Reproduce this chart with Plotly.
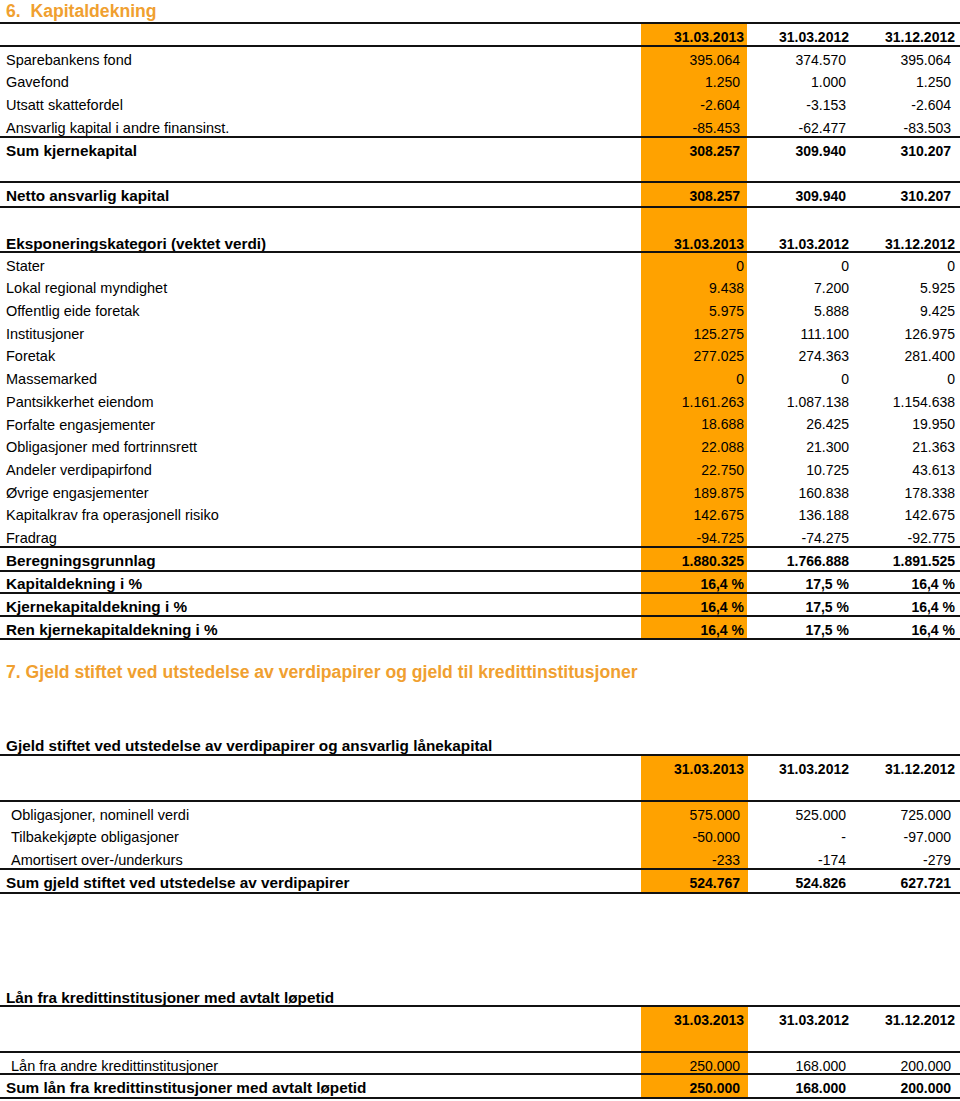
import plotly.graph_objects as go

# ---------------- data ----------------
dates = ["31.03.2013", "31.03.2012", "31.12.2012"]

title6 = "6.  Kapitaldekning"
cap_labels = ["Sparebankens fond", "Gavefond", "Utsatt skattefordel",
              "Ansvarlig kapital i andre finansinst."]
cap_2013 = [395064, 1250, -2604, -85453]
cap_2012q1 = [374570, 1000, -3153, -62477]
cap_2012 = [395064, 1250, -2604, -83503]

core_label = "Sum kjernekapital"
core_vals = [308257, 309940, 310207]
net_label = "Netto ansvarlig kapital"
net_vals = [308257, 309940, 310207]

exp_header = "Eksponeringskategori (vektet verdi)"
exp_labels = ["Stater", "Lokal regional myndighet", "Offentlig eide foretak",
              "Institusjoner", "Foretak", "Massemarked", "Pantsikkerhet eiendom",
              "Forfalte engasjementer", "Obligasjoner med fortrinnsrett",
              "Andeler verdipapirfond", "Øvrige engasjementer",
              "Kapitalkrav fra operasjonell risiko", "Fradrag"]
exp_2013 = [0, 9438, 5975, 125275, 277025, 0, 1161263, 18688, 22088, 22750,
            189875, 142675, -94725]
exp_2012q1 = [0, 7200, 5888, 111100, 274363, 0, 1087138, 26425, 21300, 10725,
              160838, 136188, -74275]
exp_2012 = [0, 5925, 9425, 126975, 281400, 0, 1154638, 19950, 21363, 43613,
            178338, 142675, -92775]

basis_label = "Beregningsgrunnlag"
basis_vals = [1880325, 1766888, 1891525]

ratio_labels = ["Kapitaldekning i %", "Kjernekapitaldekning i %",
                "Ren kjernekapitaldekning i %"]
ratio_2013 = [16.4, 16.4, 16.4]
ratio_2012q1 = [17.5, 17.5, 17.5]
ratio_2012 = [16.4, 16.4, 16.4]

title7 = "7. Gjeld stiftet ved utstedelse av verdipapirer og gjeld til kredittinstitusjoner"
bond_header = "Gjeld stiftet ved utstedelse av verdipapirer og ansvarlig lånekapital"
bond_labels = ["Obligasjoner, nominell verdi", "Tilbakekjøpte obligasjoner",
               "Amortisert over-/underkurs"]
bond_2013 = [575000, -50000, -233]
bond_2012q1 = [525000, None, -174]
bond_2012 = [725000, -97000, -279]
bond_sum_label = "Sum gjeld stiftet ved utstedelse av verdipapirer"
bond_sum = [524767, 524826, 627721]

loan_header = "Lån fra kredittinstitusjoner med avtalt løpetid"
loan_labels = ["Lån fra andre kredittinstitusjoner"]
loan_2013 = [250000]
loan_2012q1 = [168000]
loan_2012 = [200000]
loan_sum_label = "Sum lån fra kredittinstitusjoner med avtalt løpetid"
loan_sum = [250000, 168000, 200000]


# ---------------- helpers ----------------
def nok(v):
    if v is None:
        return "-"
    s = f"{abs(v):,}".replace(",", ".")
    return ("-" if v < 0 else "") + s


def pct(v):
    return f"{v:.1f}".replace(".", ",") + " %"


ORANGE = "#FFA200"
TITLE = "#F0A030"
FONT = "Liberation Sans, Arial, sans-serif"
STEP = 22.7
DY = 2                      # vertical text nudge
EDGE_A = [744, 849, 955]   # header / exposure right edges
EDGE_B = [740, 846, 951]   # capital / debt right edges

plain_x, plain_y, plain_t = [], [], []
boldl_x, boldl_y, boldl_t = [], [], []
val_x, val_y, val_t = [], [], []
lines = []
rects = []


def label(text, y, bold=False, x=6):
    if bold:
        boldl_x.append(x); boldl_y.append(y + DY); boldl_t.append(f"<b>{text}</b>")
    else:
        plain_x.append(x); plain_y.append(y + DY); plain_t.append(text)


def values(vals, y, edges, bold=False, fmt=nok):
    for v, e in zip(vals, edges):
        t = fmt(v) if fmt else v
        val_x.append(e)
        val_y.append(y + DY)
        val_t.append(f"<b>{t}</b>" if bold else t)


# ---- section 6 ----
titles = [(title6, 11), (title7, 672)]
values(dates, 36, EDGE_A, bold=True, fmt=None)
for i, lab in enumerate(cap_labels):
    y = 59 + i * STEP
    label(lab, y)
    values([cap_2013[i], cap_2012q1[i], cap_2012[i]], y, EDGE_B)
label(core_label, 150, bold=True)
values(core_vals, 150, EDGE_B, bold=True)
label(net_label, 195, bold=True)
values(net_vals, 195, EDGE_B, bold=True)
label(exp_header, 243, bold=True)
values(dates, 243, EDGE_A, bold=True, fmt=None)
for i, lab in enumerate(exp_labels):
    y = 265 + i * STEP
    label(lab, y)
    values([exp_2013[i], exp_2012q1[i], exp_2012[i]], y, EDGE_A)
label(basis_label, 560, bold=True)
values(basis_vals, 560, EDGE_A, bold=True)
for i, lab in enumerate(ratio_labels):
    y = 583 + i * 23
    label(lab, y, bold=True)
    values([ratio_2013[i], ratio_2012q1[i], ratio_2012[i]], y, EDGE_A, bold=True, fmt=pct)
lines += [23, 46, 137, 182, 207, 252, 547, 571, 593, 616, 639]
rects.append((641, 23, 747, 639))

# ---- section 7: bonds ----
label(bond_header, 745, bold=True)
values(dates, 768, EDGE_A, bold=True, fmt=None)
for i, lab in enumerate(bond_labels):
    y = 814 + i * STEP
    label(lab, y, x=11)
    values([bond_2013[i], bond_2012q1[i], bond_2012[i]], y, EDGE_B)
label(bond_sum_label, 882, bold=True)
values(bond_sum, 882, EDGE_B, bold=True)
lines += [755, 801, 869, 893]
rects.append((641, 755, 748, 893))

# ---- section 7: loans ----
label(loan_header, 997, bold=True)
values(dates, 1019, EDGE_A, bold=True, fmt=None)
for i, lab in enumerate(loan_labels):
    y = 1065 + i * STEP
    label(lab, y, x=11)
    values([loan_2013[i], loan_2012q1[i], loan_2012[i]], y, EDGE_B)
label(loan_sum_label, 1087, bold=True)
values(loan_sum, 1087, EDGE_B, bold=True)
lines += [1006, 1052, 1074, 1098]
rects.append((641, 1006, 748, 1098))

# ---------------- figure ----------------
fig = go.Figure()

for (x0, y0, x1, y1) in rects:
    fig.add_shape(type="rect", xref="x", yref="y", x0=x0, x1=x1, y0=y0, y1=y1,
                  fillcolor=ORANGE, line=dict(width=0), layer="below")
for y in lines:
    fig.add_shape(type="line", xref="x", yref="y", x0=0, x1=960, y0=y, y1=y,
                  line=dict(color="#111111", width=2))

fig.add_trace(go.Scatter(
    x=plain_x, y=plain_y, text=plain_t, mode="text", textposition="middle right",
    textfont=dict(family=FONT, size=14.5, color="#000000"), hoverinfo="skip"))
fig.add_trace(go.Scatter(
    x=boldl_x, y=boldl_y, text=boldl_t, mode="text", textposition="middle right",
    textfont=dict(family=FONT, size=15.3, color="#000000"), hoverinfo="skip"))
fig.add_trace(go.Scatter(
    x=val_x, y=val_y, text=val_t, mode="text", textposition="middle left",
    textfont=dict(family=FONT, size=14, color="#000000"), hoverinfo="skip"))
fig.add_trace(go.Scatter(
    x=[6 for _ in titles], y=[t[1] + DY for t in titles],
    text=[f"<b>{t[0]}</b>" for t in titles], mode="text",
    textposition="middle right",
    textfont=dict(family=FONT, size=17.6, color=TITLE), hoverinfo="skip"))

fig.update_layout(
    width=960, height=1101,
    margin=dict(l=0, r=0, t=0, b=0),
    paper_bgcolor="white", plot_bgcolor="white",
    showlegend=False,
    xaxis=dict(range=[0, 960], visible=False, fixedrange=True),
    yaxis=dict(range=[1101, 0], visible=False, fixedrange=True),
)

fig.write_html(
    "out.html",
    config={"displayModeBar": False},
    post_script="document.body.style.margin='0';document.body.style.overflow='hidden';",
)
